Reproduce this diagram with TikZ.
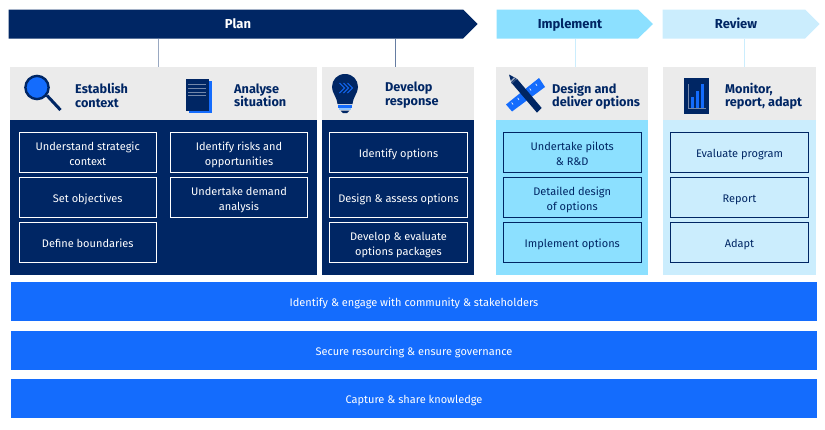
\documentclass[tikz,border=0pt]{standalone}
\usepackage{fontspec}
\setmainfont{Fira Sans}
\definecolor{navy}{HTML}{002664}
\definecolor{lightsky}{HTML}{8CE0FF}
\definecolor{palesky}{HTML}{CBEDFD}
\definecolor{brightblue}{HTML}{146CFD}
\definecolor{headgray}{HTML}{EBEBEB}
\usetikzlibrary{calc}
\tikzset{
  x=1pt,y=-1pt,
  panel/.style={draw=none,inner sep=0,outer sep=0},
  ititle/.style={font=\fontsize{12.7}{13.2}\selectfont\bfseries,text=navy,align=left,anchor=west,inner sep=0},
  phase/.style={font=\fontsize{13}{14}\selectfont\bfseries,inner sep=0,text height=10pt,text depth=3pt},
  stepbox/.style={draw=#1,line width=1pt,minimum width=137.5pt,minimum height=39.5pt,inner sep=0,align=center,font=\fontsize{11}{15.4}\selectfont,
    text height=12pt,text depth=2pt},
  twolines/.style={text height=28pt,text depth=2pt},
  wide/.style={fill=brightblue,text=white,minimum width=806pt,minimum height=39pt,inner sep=0,font=\fontsize{11}{13}\selectfont,text height=12.5pt,text depth=2.5pt},
  link/.style={line width=1pt},
}
\begin{document}
\begin{tikzpicture}
\useasboundingbox (0,0) rectangle (825,429);
% phase arrows
\fill[navy] (8.5,9.5) -- (463,9.5) -- (477.5,24) -- (463,38.5) -- (8.5,38.5) -- cycle;
\fill[lightsky] (496.5,9.5) -- (638,9.5) -- (653,24) -- (638,38.5) -- (496.5,38.5) -- cycle;
\fill[palesky] (662.5,9.5) -- (805,9.5) -- (819.5,24) -- (805,38.5) -- (662.5,38.5) -- cycle;
\node[phase,text=white] (plan) at (238,25) {Plan};
\node[phase,text=navy] (impl) at (570,25) {Implement};
\node[phase,text=navy] (rev) at (736,25) {Review};
% panels
\fill[navy] (10,120) rectangle (317,275);
\fill[navy] (321.5,120) rectangle (474,275);
\fill[lightsky] (495.5,120) rectangle (648,275);
\fill[palesky] (663,120) rectangle (816,275);
\node[panel,fill=headgray,minimum width=307pt,minimum height=53pt] (h1) at (163.5,93.5) {};
\node[panel,fill=headgray,minimum width=152.5pt,minimum height=53pt] (h2) at (397.75,93.5) {};
\node[panel,fill=headgray,minimum width=152.5pt,minimum height=53pt] (h3) at (571.75,93.5) {};
\node[panel,fill=headgray,minimum width=153pt,minimum height=53pt] (h4) at (739.5,93.5) {};
% connectors
\coordinate (p1) at (158,38.5);\coordinate (p2) at (395,38.5);
\coordinate (p3) at (575.5,38.5);\coordinate (p4) at (744,38.5);
\draw[link,draw=navy!40!white] (p1) -- (p1 |- h1.north);
\draw[link,draw=navy!60!white] (p2) -- (p2 |- h2.north);
\draw[link,draw=palesky] (p3) -- (p3 |- h3.north);
\draw[link,draw=palesky] (p4) -- (p4 |- h4.north);
% header titles
\node[ititle] (t1) at (75,95.5) {Establish\\context};
\node[ititle] (t2) at (234,95) {Analyse\\situation};
\node[ititle] (t3) at (385,95) {Develop\\response};
\node[ititle] (t4) at (552,96) {Design and\\deliver options};
\node[ititle] (t5) at (725,96) {Monitor,\\report, adapt};
% magnifier icon
\draw[navy,line width=3pt,line cap=butt] (47,95.5) -- (60.5,110);
\draw[navy,line width=2.4pt,fill=brightblue] (37,87.5) circle (11.6);
% document icon
\fill[brightblue] (189,81) rectangle (212,113);
\fill[navy] (186,78.5) rectangle (209,111);
\foreach \yy in {84.5,88.5,92,95.5} \draw[white,opacity=.45,line width=.6pt] (188,\yy) -- (206,\yy);
% lightbulb icon
\fill[navy] (345,74) .. controls (353,74) and (358,80) .. (358,87)
 .. controls (358,93) and (353.5,96) .. (352.5,104) -- (337.5,104)
 .. controls (336.5,96) and (332,93) .. (332,87) .. controls (332,80) and (337,74) .. (345,74) -- cycle;
\fill[brightblue] (338,105) rectangle (352,107.5);
\fill[palesky!70!brightblue] (339,108) rectangle (351,110);
\fill[navy] (340.5,110.5) -- (349.5,110.5) -- (347,113) -- (343,113) -- cycle;
\foreach \xx in {339.5,343.5,347.5} \draw[brightblue,line width=.9pt] (\xx,83) -- (\xx+5,88) -- (\xx,93);
% ruler + pencil icon
\fill[brightblue] (506,104.5) -- (539,78) -- (545,87) -- (512,111.5) -- cycle;
\foreach \xx/\yy in {513,519,525,531,537}
  \draw[white,line width=.6pt] (\xx,{104.5-(\xx-506)*0.78+5.5}) -- (\xx-1.3,{104.5-(\xx-506)*0.78+3.5});
\fill[navy] (509,74.5) -- (516.5,78.5) -- (511.5,83.5) -- cycle;
\fill[navy] (512,83.5) -- (517,78.8) -- (541.7,108) -- (537,112.7) -- cycle;
\fill[white,opacity=.55] (514,77.4) -- (510.3,81.2) -- (510.9,82.6) -- (515.3,78.2) -- cycle;
% chart icon
\fill[navy] (683.5,77.5) rectangle (709,113.5);
\draw[white,opacity=.45,line width=.5pt] (688,84) -- (688,108) -- (706,108);
\fill[brightblue] (690.5,97) rectangle (693.5,107.5);
\fill[brightblue] (695.5,91) rectangle (698.5,107.5);
\fill[brightblue] (700.5,84) rectangle (703.5,107.5);
% step boxes
\node[stepbox=white,twolines,text=white] (a1) at (87.75,152.5) {Understand strategic\\context};
\node[stepbox=white,text=white] (a2) at (87.75,197.5) {Set objectives};
\node[stepbox=white,text=white] (a3) at (87.75,242.5) {Define boundaries};
\node[stepbox=white,twolines,text=white] (b1) at (239,152.5) {Identify risks and\\opportunities};
\node[stepbox=white,twolines,text=white] (b2) at (239,197.5) {Undertake demand\\analysis};
\node[stepbox=white,text=white] (c1) at (398.5,152.5) {Identify options};
\node[stepbox=white,text=white] (c2) at (398.5,197.5) {Design \& assess options};
\node[stepbox=white,twolines,text=white] (c3) at (398.5,242.5) {Develop \& evaluate\\options packages};
\node[stepbox=navy,twolines,text=navy] (d1) at (572.25,152.5) {Undertake pilots\\\& R\&D};
\node[stepbox=navy,twolines,text=navy] (d2) at (572.25,197.5) {Detailed design\\of options};
\node[stepbox=navy,text=navy] (d3) at (572.25,242.5) {Implement options};
\node[stepbox=navy,text=navy] (e1) at (739.5,152.5) {Evaluate program};
\node[stepbox=navy,text=navy] (e2) at (739.5,197.5) {Report};
\node[stepbox=navy,text=navy] (e3) at (739.5,242.5) {Adapt};
% wide bars
\node[wide] (w1) at (414,301.5) {Identify \& engage with community \& stakeholders};
\node[wide] (w2) at (414,350.5) {Secure resourcing \& ensure governance};
\node[wide] (w3) at (414,398.5) {Capture \& share knowledge};
\end{tikzpicture}
\end{document}
